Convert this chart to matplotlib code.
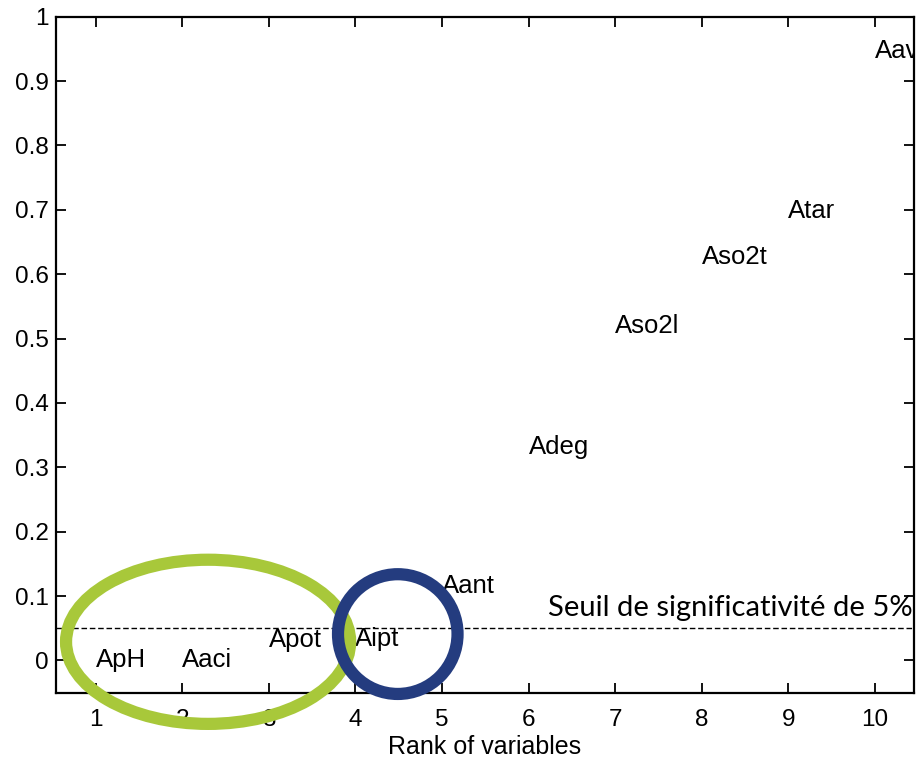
import matplotlib
matplotlib.use("Agg")
import matplotlib.pyplot as plt
from matplotlib.patches import Ellipse

plt.rcParams['font.family'] = ['Liberation Sans', 'DejaVu Sans']

# Variables ranked by p-value
variables = ["ApH", "Aaci", "Apot", "Aipt", "Aant", "Adeg", "Aso2l", "Aso2t", "Atar", "Aav"]
ranks = [1, 2, 3, 4, 5, 6, 7, 8, 9, 10]
p_values = [0.0, 0.001, 0.032, 0.034, 0.115, 0.332, 0.52, 0.626, 0.698, 0.947]
threshold = 0.05
threshold_label = "Seuil de significativité de 5%"

fig = plt.figure(figsize=(9.17, 7.6), dpi=100)
ax = fig.add_axes([0.0607, 0.0886, 0.936, 0.8894])

for name, r, p in zip(variables, ranks, p_values):
    ax.text(r, p, name, ha="left", va="center", fontsize=18.5, clip_on=True)

ax.axhline(threshold, color="black", lw=1.0, ls=(0, (4, 2)))
ax.text(10.43, threshold + 0.011, threshold_label, ha="right", va="bottom",
        fontsize=21, family=["Lato", "DejaVu Sans"])

ax.set_xlim(0.54, 10.45)
ax.set_ylim(-0.05, 1.0)
ax.set_xticks(ranks)
ax.set_yticks([i / 10 for i in range(11)])
ax.set_yticklabels(["0"] + [f"{i/10:g}" for i in range(1, 10)] + ["1"])
ax.set_xlabel("Rank of variables", fontsize=18, labelpad=3)

ax.tick_params(direction="in", length=7, width=1.3, labelsize=17.5,
               top=True, right=True, pad=12)
ax.tick_params(axis="y", pad=5)
for s in ax.spines.values():
    s.set_linewidth(1.6)

# Highlight groups of variables
green = Ellipse((2.30, 0.029), 3.28, 0.255, fill=False, edgecolor="#a8c83a",
                lw=8.8, clip_on=False, zorder=10)
blue = Ellipse((4.49, 0.041), 1.38, 0.186, fill=False, edgecolor="#243c7f",
               lw=8.8, clip_on=False, zorder=11)
ax.add_patch(green)
ax.add_patch(blue)

fig.savefig("out.png", dpi=100)
